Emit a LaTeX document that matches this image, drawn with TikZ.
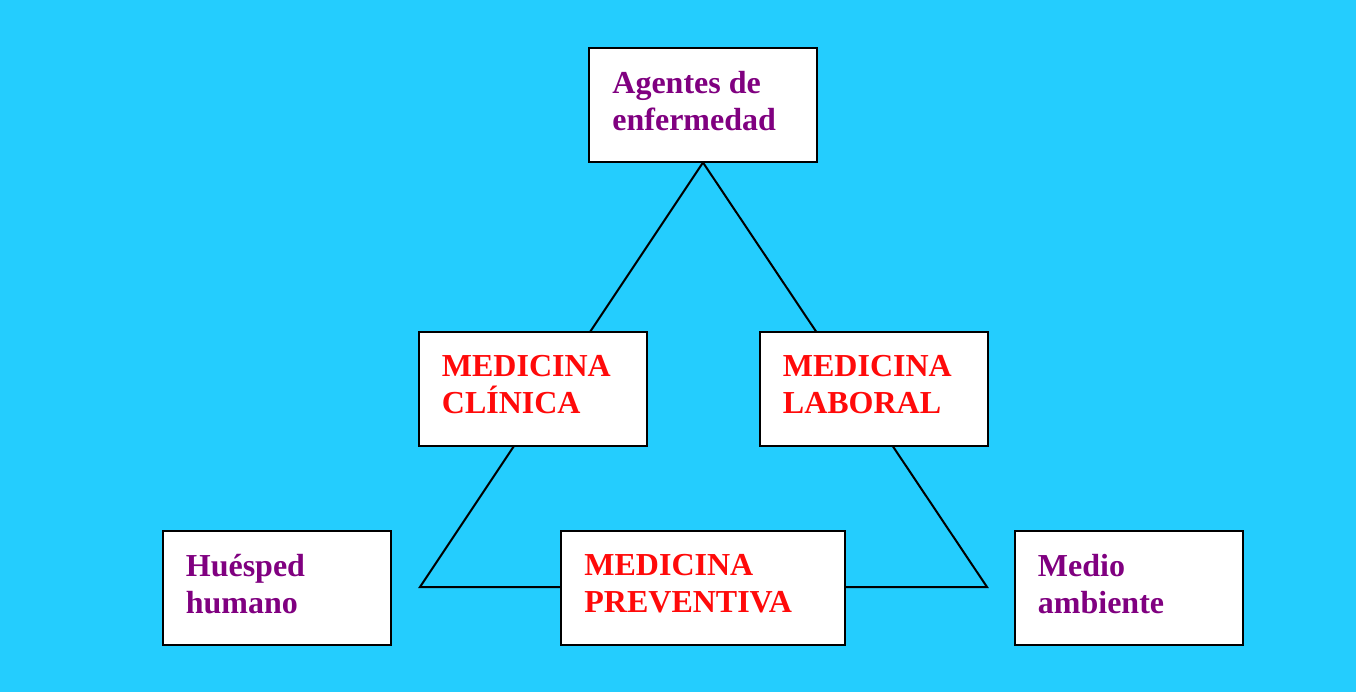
\documentclass[tikz,border=0pt]{standalone}
\usepackage{fontspec}
\setmainfont{Liberation Serif}
\usetikzlibrary{backgrounds}
\definecolor{fondo}{HTML}{24CDFE}
\definecolor{morado}{HTML}{800080}
\definecolor{rojo}{HTML}{FF0A0A}

\begin{document}
\begin{tikzpicture}[x=0.5pt,y=-0.5pt,
    caja/.style={draw=black,line width=1pt,fill=white,minimum width=114pt,minimum height=57pt,inner sep=0pt},
    texto/.style={anchor=north west,align=left,inner sep=0pt,font=\fontsize{16}{18.5}\selectfont\bfseries},
    linea/.style={line width=1pt}]
    \useasboundingbox (0,0) rectangle (1356,692);
    % cajas
    \node[caja] (agentes) at (703,104.5) {};
    \node[caja] (clinica) at (532.5,389) {};
    \node[caja] (laboral) at (873.5,389) {};
    \node[caja] (huesped) at (276.5,587.5) {};
    \node[caja,minimum width=142pt] (preventiva) at (703,587.5) {};
    \node[caja] (medio) at (1128.5,587.5) {};
    % textos
    \node[texto,text=morado] (tagentes) at ([xshift=12pt,yshift=-12pt]agentes.north west) {Agentes de\\enfermedad};
    \node[texto,text=rojo] (tclinica) at ([xshift=12pt,yshift=-12pt]clinica.north west) {MEDICINA\\CLÍNICA};
    \node[texto,text=rojo] (tlaboral) at ([xshift=12pt,yshift=-12pt]laboral.north west) {MEDICINA\\LABORAL};
    \node[texto,text=morado] (thuesped) at ([xshift=12pt,yshift=-12pt]huesped.north west) {Huésped\\humano};
    \node[texto,text=rojo] (tpreventiva) at ([xshift=12pt,yshift=-12pt]preventiva.north west) {MEDICINA\\PREVENTIVA};
    \node[texto,text=morado] (tmedio) at ([xshift=12pt,yshift=-12pt]medio.north west) {Medio\\ambiente};
    % triangulo
    \coordinate (izq) at (420,587);
    \coordinate (der) at (987,587);
    \begin{scope}[on background layer]
        \fill[fondo] (0,0) rectangle (1356,692);
        \draw[linea] (agentes.south) -- (izq) -- (der) -- cycle;
    \end{scope}
\end{tikzpicture}
\end{document}
